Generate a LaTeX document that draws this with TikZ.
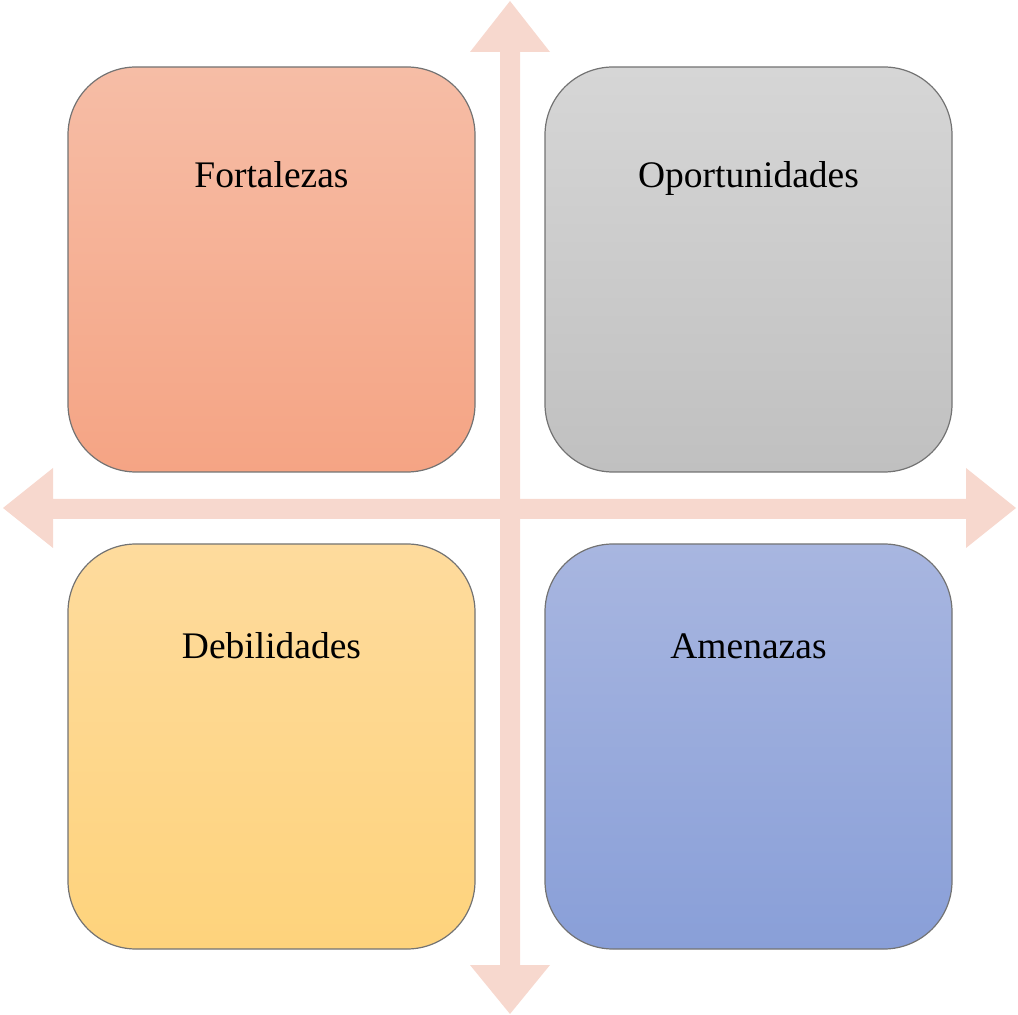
\documentclass[tikz,border=0pt]{standalone}
\usepackage{fontspec}
\setmainfont{Liberation Serif}
\usetikzlibrary{positioning}
\definecolor{axispink}{RGB}{247,216,206}
\definecolor{fortTop}{RGB}{246,189,166}
\definecolor{fortBot}{RGB}{245,164,132}
\definecolor{oporTop}{RGB}{214,214,214}
\definecolor{oporBot}{RGB}{192,192,192}
\definecolor{debiTop}{RGB}{254,219,157}
\definecolor{debiBot}{RGB}{254,211,124}
\definecolor{amenTop}{RGB}{168,182,224}
\definecolor{amenBot}{RGB}{137,159,216}
\newcommand{\swotfont}{\fontsize{18.75}{22}\selectfont}
\tikzset{
    quadrant/.style={
        draw=black!55,
        line width=0.6pt,
        rounded corners=34pt,
        minimum width=203.5pt,
        minimum height=202.5pt,
        inner sep=0pt
    },
    quadtitle/.style={
        anchor=base,
        font=\swotfont,
        inner sep=0pt
    }
}

\begin{document}
\begin{tikzpicture}[x=0.5pt,y=-0.5pt]

    \useasboundingbox (0,0) rectangle (1018,1015);

    % axes
    \fill[axispink] (510,1) -- (550,52) -- (520,52) -- (520,965) -- (550,965)
        -- (510,1014) -- (470,965) -- (500,965) -- (500,52) -- (470,52) -- cycle;
    \fill[axispink] (3,508) -- (53,468) -- (53,499) -- (966,499) -- (966,468)
        -- (1016,508) -- (966,548) -- (966,519) -- (53,519) -- (53,548) -- cycle;

    % quadrants
    \node[quadrant, top color=fortTop, bottom color=fortBot] (fort) at (271.5,269.5) {};
    \node[quadrant, top color=oporTop, bottom color=oporBot] (opor) at (748.5,269.5) {};
    \node[quadrant, top color=debiTop, bottom color=debiBot] (debi) at (271.5,746.5) {};
    \node[quadrant, top color=amenTop, bottom color=amenBot] (amen) at (748.5,746.5) {};

    \node[quadtitle] (fortText) at ([yshift=-60.5pt]fort.north) {Fortalezas};
    \node[quadtitle] (oporText) at ([yshift=-60.5pt]opor.north) {Oportunidades};
    \node[quadtitle] (debiText) at ([yshift=-57.5pt]debi.north) {Debilidades};
    \node[quadtitle] (amenText) at ([yshift=-57.5pt]amen.north) {Amenazas};

\end{tikzpicture}
\end{document}
